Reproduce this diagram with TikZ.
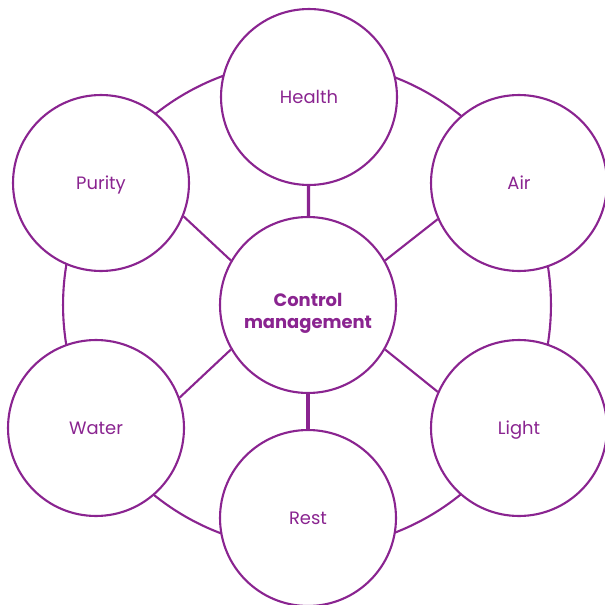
\documentclass[tikz,border=0pt]{standalone}
\usepackage{fontspec}
\setmainfont{Poppins}
\usepackage{tikz}
\definecolor{plum}{HTML}{8A2490}
\tikzset{
  topic/.style={circle,draw=plum,fill=white,line width=1.2pt,minimum size=3.52cm,inner sep=0pt,text=plum,text depth=0pt,font=\fontsize{10.2}{12}\selectfont},
  hub/.style={topic,text depth=,font=\fontsize{10.2}{12.6}\selectfont\bfseries,align=center},
  spoke/.style={draw=plum,line width=1.2pt},
  stem/.style={spoke,line width=1.8pt}
}

\begin{document}
\begin{tikzpicture}[x=0.02cm,y=-0.02cm]
\useasboundingbox (0,0) rectangle (605,605);
\draw[plum,line width=1.2pt] (307,305) circle [radius=4.88cm];

\node[hub] (ctrl) at (308,305) {\rule{0pt}{9pt}\\[-5pt]Control\\management};
\node[topic] (health) at (309,97) {Health};
\node[topic] (air) at (519,183) {Air};
\node[topic] (light) at (519,428) {Light};
\node[topic] (rest) at (308,518) {Rest};
\node[topic] (water) at (96,428) {Water};
\node[topic] (purity) at (101,183) {Purity};

\draw[stem] (ctrl) -- (health);
\draw[stem] (ctrl) -- (rest);
\draw[spoke] (ctrl.30) -- (air.204);
\draw[spoke] (ctrl.-30) -- (light.156);
\draw[spoke] (ctrl.150) -- (purity.-22);
\draw[spoke] (ctrl.210) -- (water.20);
\end{tikzpicture}
\end{document}
